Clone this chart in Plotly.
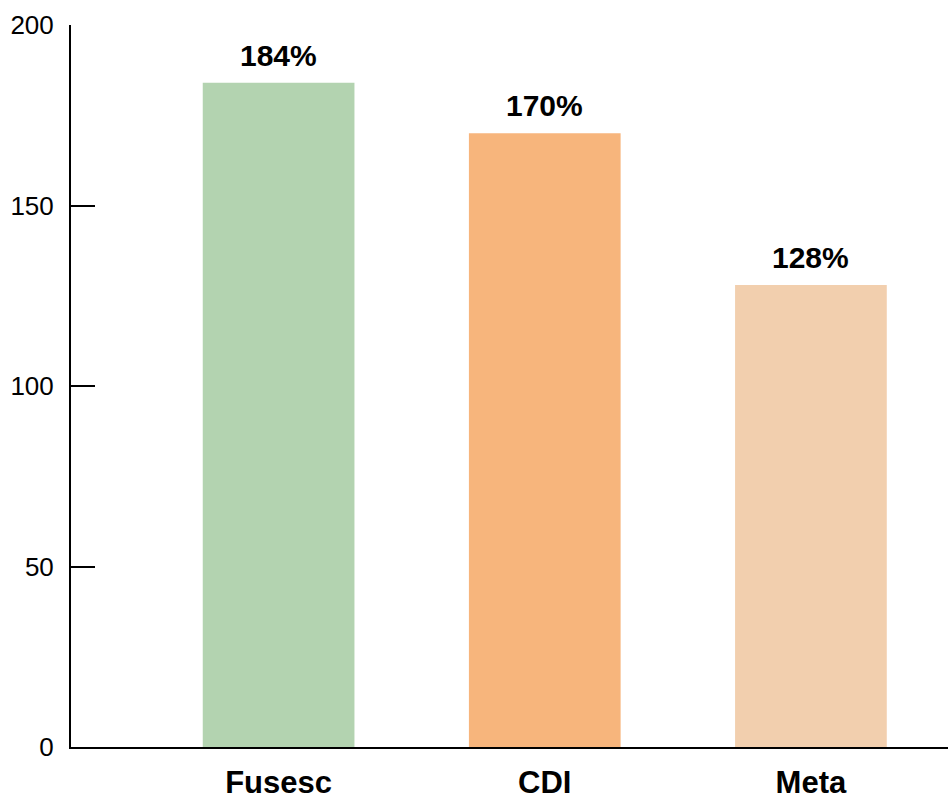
import plotly.graph_objects as go

categories = ["Fusesc", "CDI", "Meta"]
values = [184, 170, 128]
labels = ["184%", "170%", "128%"]
colors = ["#b3d3b0", "#f7b57c", "#f2cfae"]
y_ticks = [0, 50, 100, 150, 200]

fig = go.Figure()
fig.add_trace(go.Bar(x=categories, y=values, marker=dict(color=colors, line=dict(width=0)),
                     width=0.57, hoverinfo="skip"))

for c, v, t in zip(categories, values, labels):
    fig.add_annotation(x=c, y=v, text=t, showarrow=False, yanchor="bottom", yshift=9,
                       font=dict(family="Liberation Sans", size=30, color="black", weight="bold"))

fig.update_layout(
    width=948, height=797,
    margin=dict(l=71, r=0, t=25, b=50, autoexpand=False),
    plot_bgcolor="white", paper_bgcolor="white",
    showlegend=False,
    font=dict(family="Liberation Sans", color="black"),
)
fig.update_xaxes(
    range=[-0.78, 2.515], showgrid=False, zeroline=False, automargin=False,
    showline=True, linecolor="black", linewidth=2, ticks="",
    tickfont=dict(size=31, weight="bold", color="black"),
    ticklabelstandoff=7,
)
fig.update_yaxes(
    range=[0, 200], tickvals=y_ticks, showgrid=False, zeroline=False, automargin=False,
    showline=True, linecolor="black", linewidth=2,
    ticks="inside", ticklen=24, tickwidth=2, tickcolor="black",
    tickfont=dict(size=26, color="black"),
    ticklabelstandoff=10,
)
css = "margin:0;padding:0;overflow:hidden;height:797px;width:948px;"
fig.write_html("out.html",
               config={"displayModeBar": False},
               post_script=("document.documentElement.style.cssText='%s';"
                            "document.body.style.cssText='%s';" % (css, css)))
